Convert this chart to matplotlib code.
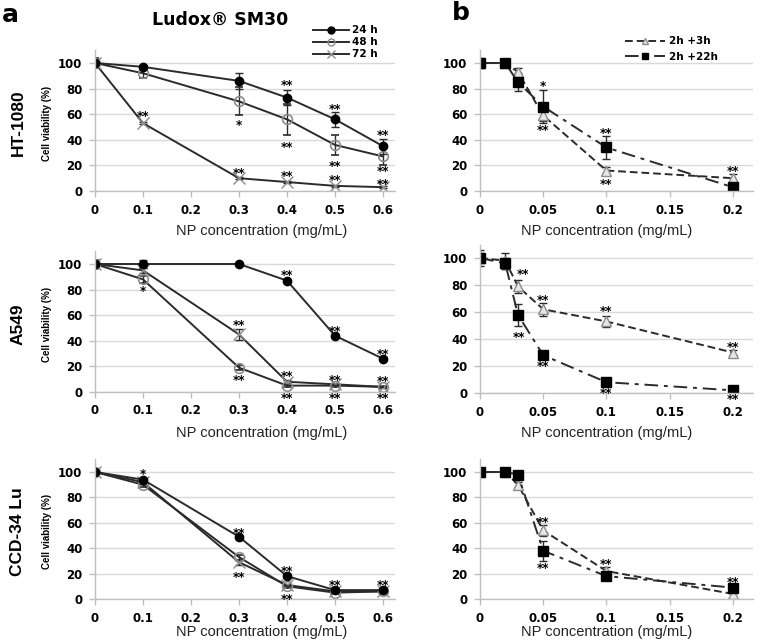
import matplotlib.pyplot as plt
import matplotlib.transforms as mtransforms
from matplotlib.lines import Line2D

# ---- data ----
conc_a = [0, 0.1, 0.3, 0.4, 0.5, 0.6]
conc_b = [0, 0.02, 0.03, 0.05, 0.1, 0.2]
ticks_a = [0, 0.1, 0.2, 0.3, 0.4, 0.5, 0.6]
ticks_b = [0, 0.05, 0.1, 0.15, 0.2]
tick_labels_a = ['0', '0.1', '0.2', '0.3', '0.4', '0.5', '0.6']
tick_labels_b = ['0', '0.05', '0.1', '0.15', '0.2']
yticks = [0, 20, 40, 60, 80, 100]
cell_lines = ['HT-1080', 'A549', 'CCD-34 Lu']

# panel a : 24 h / 48 h / 72 h
ht_24 = [100, 97, 86, 73, 56, 35]
ht_24_err = [3, 1, 6, 6, 6, 6]
ht_48 = [100, 92, 70, 56, 36, 27]
ht_48_err = [4, 4, 11, 12, 8, 7]
ht_72 = [100, 53, 10, 7, 4, 3]
ht_72_err = [3, 1, 1, 1, 1, 1]

a549_24 = [100, 100, 100, 87, 44, 26]
a549_24_err = [3, 3, 1, 1, 1, 1]
a549_48 = [100, 88, 19, 5, 5, 4]
a549_48_err = [3, 3, 2, 1, 1, 1]
a549_72 = [100, 95, 45, 8, 6, 4]
a549_72_err = [3, 2, 4, 1, 1, 1]

ccd_24 = [100, 94, 49, 18, 7, 7]
ccd_24_err = [1, 1, 1, 1, 1, 1]
ccd_48 = [100, 90, 33, 10, 5, 6]
ccd_48_err = [1, 2, 2, 1, 1, 1]
ccd_72 = [100, 92, 29, 11, 6, 6]
ccd_72_err = [1, 1, 2, 1, 1, 1]

# panel b : 2h +3h / 2h +22h
ht_3h = [100, 100, 93, 59, 16, 10]
ht_3h_err = [3, 1, 3, 4, 3, 3]
ht_22h = [100, 100, 85, 66, 34, 3]
ht_22h_err = [4, 1, 7, 13, 9, 1]

a549_3h = [100, 98, 79, 62, 53, 30]
a549_3h_err = [6, 6, 5, 5, 4, 2]
a549_22h = [100, 96, 58, 28, 8, 2]
a549_22h_err = [4, 4, 8, 2, 1, 1]

ccd_3h = [100, 100, 90, 54, 22, 4]
ccd_3h_err = [1, 2, 2, 4, 3, 4]
ccd_22h = [100, 100, 98, 38, 18, 9]
ccd_22h_err = [1, 1, 1, 8, 2, 2]

# significance marks (x, y, text)
ht_a_stars = [(0.4, 85, '**'), (0.5, 66, '**'), (0.6, 46, '**'),
              (0.1, 61, '**'), (0.3, 54, '*'), (0.4, 37, '**'),
              (0.3, 16, '**'), (0.4, 14, '**'), (0.5, 22, '**'),
              (0.5, 11, '**'), (0.6, 18, '**'), (0.6, 8, '**')]
a549_a_stars = [(0.1, 81, '*'), (0.3, 55, '**'), (0.3, 12, '**'),
                (0.4, 94, '**'), (0.5, 50, '**'), (0.4, 15, '**'),
                (0.4, -2, '**'), (0.5, 12, '**'), (0.5, -2, '**'),
                (0.6, 32, '**'), (0.6, 11, '**'), (0.6, -2, '**')]
ccd_a_stars = [(0.1, 101, '*'), (0.3, 54, '**'), (0.3, 20, '**'),
               (0.4, 24, '**'), (0.4, 2, '**'), (0.5, 13, '**'),
               (0.6, 13, '**')]
ht_b_stars = [(0.05, 84, '*'), (0.05, 50, '**'), (0.1, 48, '**'),
              (0.1, 8, '**'), (0.2, 18, '**')]
a549_b_stars = [(0.034, 90, '**'), (0.05, 71, '**'), (0.1, 63, '**'),
                (0.2, 36, '**'), (0.031, 44, '**'), (0.05, 22, '**'),
                (0.1, 2, '**'), (0.2, -2, '**')]
ccd_b_stars = [(0.05, 63, '**'), (0.05, 27, '**'), (0.1, 30, '**'),
               (0.2, 16, '**')]

W, H = 761, 643
fig = plt.figure(figsize=(W / 100, H / 100), dpi=100)

LINE = '#2b2b2b'
GRID = '#d9d9d9'
TICKFONT = {'family': 'DejaVu Sans', 'weight': 'bold', 'size': 8.5}


def make_axes(left_px, right_px, y0_px, y100_px):
    top_px = y0_px - 1.1 * (y0_px - y100_px)
    ax = fig.add_axes([left_px / W, 1 - y0_px / H,
                       (right_px - left_px) / W, (y0_px - top_px) / H])
    ax.set_ylim(0, 110)
    ax.set_yticks(yticks)
    ax.set_yticklabels([str(v) for v in yticks], fontdict=TICKFONT)
    for s in ['top', 'right']:
        ax.spines[s].set_visible(False)
    for s in ['left', 'bottom']:
        ax.spines[s].set_color('#bfbfbf')
        ax.spines[s].set_linewidth(1)
    ax.yaxis.grid(True, color=GRID, lw=1)
    ax.set_axisbelow(True)
    ax.tick_params(axis='both', colors='#bfbfbf', labelcolor='black',
                   length=4, width=1)
    ax.tick_params(axis='x', pad=5)
    ax.tick_params(axis='y', pad=5)
    ax.set_facecolor('none')
    return ax


def stars(ax, marks):
    off = mtransforms.offset_copy(ax.transData, fig=fig, x=0, y=-2.5, units='points')
    for x, y, t in marks:
        ax.text(x, y, t, transform=off, ha='center', va='center',
                fontsize=8.5, fontweight='bold', clip_on=False)


def draw_a(ax, y24, e24, y48, e48, y72, e72, marks):
    ax.errorbar(conc_a, y72, yerr=e72, color=LINE, lw=1.4, marker='x', ms=8,
                mec='#8c8c8c', mew=1, ecolor=LINE, elinewidth=1, capsize=3)
    ax.errorbar(conc_a, y48, yerr=e48, color=LINE, lw=1.4, marker='o', ms=7,
                mfc='none', mec='#8c8c8c', mew=1.2, ecolor=LINE, elinewidth=1, capsize=3)
    ax.errorbar(conc_a, y24, yerr=e24, color=LINE, lw=1.4, marker='o', ms=6,
                mfc='black', mec='black', ecolor=LINE, elinewidth=1, capsize=3)
    ax.set_xlim(0, 0.625)
    ax.set_xticks(ticks_a)
    ax.set_xticklabels(tick_labels_a, fontdict=TICKFONT)
    stars(ax, marks)


def draw_b(ax, y3, e3, y22, e22, marks):
    ax.errorbar(conc_b, y3, yerr=e3, color=LINE, lw=1.4, ls=(0, (4, 2)), marker='^',
                ms=7, mfc='#e6e6e6', mec='#8c8c8c', mew=1, ecolor=LINE,
                elinewidth=1, capsize=3)
    ax.errorbar(conc_b, y22, yerr=e22, color=LINE, lw=1.4, ls=(0, (7, 3, 2, 3)),
                marker='s', ms=7, mfc='black', mec='black', ecolor=LINE,
                elinewidth=1, capsize=3)
    ax.set_xlim(0, 0.216)
    ax.set_xticks(ticks_b)
    ax.set_xticklabels(tick_labels_b, fontdict=TICKFONT)
    stars(ax, marks)


rows_a = [(191, 63), (392, 264), (599, 472)]
rows_b = [(191, 63), (393, 258), (599, 472)]
xlabel_y = [231, 433, 632]

data_a = [(ht_24, ht_24_err, ht_48, ht_48_err, ht_72, ht_72_err, ht_a_stars),
          (a549_24, a549_24_err, a549_48, a549_48_err, a549_72, a549_72_err, a549_a_stars),
          (ccd_24, ccd_24_err, ccd_48, ccd_48_err, ccd_72, ccd_72_err, ccd_a_stars)]
data_b = [(ht_3h, ht_3h_err, ht_22h, ht_22h_err, ht_b_stars),
          (a549_3h, a549_3h_err, a549_22h, a549_22h_err, a549_b_stars),
          (ccd_3h, ccd_3h_err, ccd_22h, ccd_22h_err, ccd_b_stars)]

for i in range(3):
    y0, y100 = rows_a[i]
    ax = make_axes(95, 395, y0, y100)
    draw_a(ax, *data_a[i])
    yc = 1 - (y0 + y100 - 8) / 2 / H
    fig.text(18 / W, yc, cell_lines[i], rotation=90, ha='center', va='center',
             fontsize=12.5, fontweight='bold', family='Liberation Sans')
    fig.text(47 / W, yc, 'Cell viability (%)', rotation=90, ha='center', va='center',
             fontsize=7, fontweight='bold', family='Liberation Sans')
    fig.text(262 / W, 1 - xlabel_y[i] / H, 'NP concentration (mg/mL)', ha='center',
             va='center', fontsize=10.5, family='Liberation Sans', color='#222222')

    y0, y100 = rows_b[i]
    ax = make_axes(480, 753, y0, y100)
    draw_b(ax, *data_b[i])
    fig.text(607 / W, 1 - xlabel_y[i] / H, 'NP concentration (mg/mL)', ha='center',
             va='center', fontsize=10.5, family='Liberation Sans', color='#222222')

# titles and panel letters
fig.text(2 / W, 1 - 15 / H, 'a', fontsize=18, fontweight='bold', va='center')
fig.text(452 / W, 1 - 13 / H, 'b', fontsize=18, fontweight='bold', va='center')
fig.text(220 / W, 1 - 20 / H, 'Ludox® SM30', fontsize=12.5, fontweight='bold',
         ha='center', va='center')

# legends
h_a = [Line2D([], [], color=LINE, lw=1.4, marker='o', ms=5, mfc='black', mec='black'),
       Line2D([], [], color=LINE, lw=1.4, marker='o', ms=5, mfc='none', mec='#8c8c8c'),
       Line2D([], [], color=LINE, lw=1.4, marker='x', ms=6, mec='#8c8c8c')]
fig.legend(h_a, ['24 h', '48 h', '72 h'], loc='upper left',
           bbox_to_anchor=(309 / W, 1 - 21 / H), frameon=False, handlelength=3.4,
           labelspacing=0.2, handletextpad=0.3, borderaxespad=0,
           prop={'weight': 'bold', 'size': 7.5})
h_b = [Line2D([], [], color=LINE, lw=1.4, ls=(0, (4, 2)), marker='^', ms=5,
              mfc='#e6e6e6', mec='#8c8c8c'),
       Line2D([], [], color=LINE, lw=1.4, ls=(0, (7, 3, 2, 3)), marker='s', ms=5,
              mfc='black', mec='black')]
fig.legend(h_b, ['2h +3h', '2h +22h'], loc='upper left',
           bbox_to_anchor=(621 / W, 1 - 32 / H), frameon=False, handlelength=3.8,
           labelspacing=0.55, handletextpad=0.4, borderaxespad=0,
           prop={'weight': 'bold', 'size': 7.5})

fig.savefig('out.png', dpi=100)
